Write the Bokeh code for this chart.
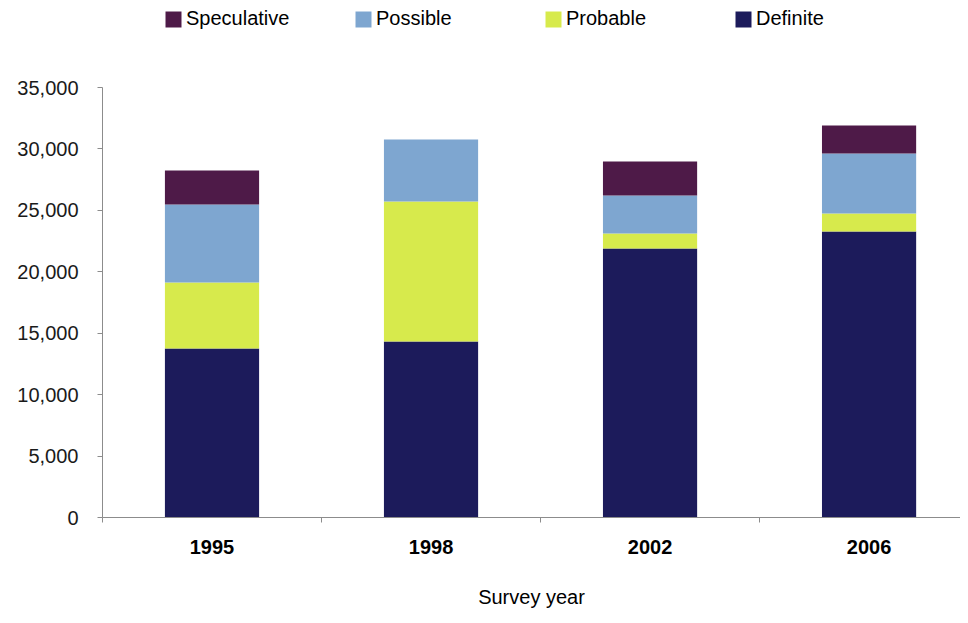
from bokeh.plotting import figure
from bokeh.models import ColumnDataSource, Legend, LegendItem, FixedTicker, NumeralTickFormatter, Range1d
from bokeh.embed import file_html
from bokeh.resources import INLINE

years = ["1995", "1998", "2002", "2006"]
definite = [13750, 14330, 21900, 23280]
probable = [5370, 11390, 1220, 1460]
possible = [6350, 5050, 3090, 4890]
speculative = [2770, 0, 2770, 2280]

series = ["definite", "probable", "possible", "speculative"]
labels = ["Definite", "Probable", "Possible", "Speculative"]
colors = ["#1C1B5B", "#D7EA4C", "#7EA6D0", "#4E1A48"]

xpos = list(range(1, len(years) + 1))
src = ColumnDataSource(dict(x=xpos, definite=definite, probable=probable,
                            possible=possible, speculative=speculative))

H, W = 615, 960
BOTTOM = 98
frame_h = H - BOTTOM
p = figure(width=W, height=H, output_backend="svg", toolbar_location=None,
           x_range=Range1d(0.5, 4.454 - 8 / 219),
           y_range=Range1d(0, 35000 * frame_h / 430),
           min_border_left=102, min_border_right=0, min_border_top=0, min_border_bottom=BOTTOM)
p.outline_line_color = None
p.xgrid.visible = False
p.ygrid.visible = False

rs = p.vbar_stack(series, x="x", width=0.43, source=src, color=colors, line_color=None)

FONT = "Liberation Sans"
# y axis
ya = p.yaxis[0]
ya.bounds = (0, 35000)
ya.ticker = FixedTicker(ticks=list(range(0, 35001, 5000)), minor_ticks=[])
ya.formatter = NumeralTickFormatter(format="0,0")
ya.axis_line_color = "#8c8c8c"
ya.major_tick_line_color = "#8c8c8c"
ya.major_tick_in = 0
ya.major_tick_out = 5
ya.major_label_standoff = 19
ya.major_label_text_font = FONT
ya.major_label_text_font_size = "20px"
ya.major_label_text_color = "#1a1a1a"

# x axis
xa = p.xaxis[0]
xa.ticker = FixedTicker(ticks=xpos, minor_ticks=[0.5, 1.5, 2.5, 3.5, 4.5])
xa.major_label_overrides = {i: y for i, y in zip(xpos, years)}
xa.axis_line_color = "#8c8c8c"
xa.major_tick_line_color = None
xa.major_tick_in = 0
xa.major_tick_out = 5
xa.minor_tick_line_color = "#8c8c8c"
xa.minor_tick_in = 0
xa.minor_tick_out = 5
xa.major_label_standoff = 17
xa.major_label_text_font = FONT
xa.major_label_text_font_size = "20px"
xa.major_label_text_font_style = "bold"
xa.major_label_text_color = "#000000"
xa.axis_label = "Survey year"
xa.axis_label_text_font = FONT
xa.axis_label_text_font_size = "20px"
xa.axis_label_text_font_style = "normal"
xa.axis_label_text_color = "#000000"
xa.axis_label_standoff = 29

items = [LegendItem(label=labels[i], renderers=[rs[i]]) for i in [3, 2, 1, 0]]
legend = Legend(items=items, orientation="horizontal", location=(61, frame_h - 30),
                glyph_width=20, glyph_height=20, label_standoff=3, spacing=0,
                label_width=167, padding=0, margin=0, border_line_color=None,
                background_fill_alpha=0, label_text_font=FONT,
                label_text_font_size="20px", label_text_color="#000000")
p.add_layout(legend, "center")

open("out.html", "w").write(file_html(p, INLINE))
